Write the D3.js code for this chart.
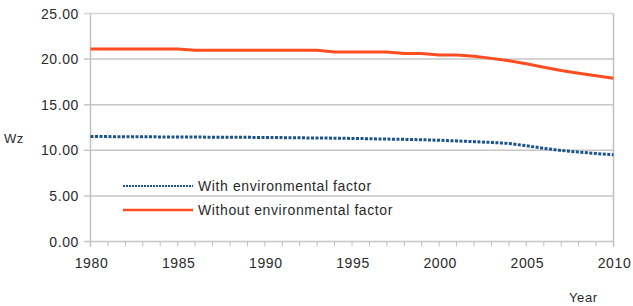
<!DOCTYPE html>
<html>
<head>
<meta charset="utf-8">
<script src="https://cdn.jsdelivr.net/npm/d3@7"></script>
<style>
  body { margin: 0; background: #fff; }
  text { font-family: "Liberation Sans", Arial, sans-serif; fill: #2a2a2a; letter-spacing: 0.6px; }
</style>
</head>
<body>
<svg class="chart"></svg>
<script>
  let years = d3.range(1980, 2011);
  let withEnv = [11.5, 11.5, 11.49, 11.48, 11.47, 11.46, 11.45, 11.44, 11.43, 11.42, 11.41,
                 11.39, 11.37, 11.35, 11.33, 11.3, 11.27, 11.23, 11.2, 11.16, 11.1,
                 11.03, 10.95, 10.86, 10.75, 10.5, 10.22, 9.98, 9.8, 9.65, 9.5];
  let withoutEnv = [21.1, 21.1, 21.1, 21.1, 21.1, 21.1, 20.97, 20.97, 20.97, 20.97, 20.97,
                    20.97, 20.97, 20.97, 20.78, 20.78, 20.78, 20.78, 20.62, 20.62, 20.45,
                    20.45, 20.3, 20.08, 19.82, 19.48, 19.1, 18.75, 18.45, 18.18, 17.9];
  let yTicks = [0, 5, 10, 15, 20, 25];
  let xLabels = [1980, 1985, 1990, 1995, 2000, 2005, 2010];
  let seriesNames = ["With environmental factor", "Without environmental factor"];

  let width = 633;
  let height = 306;
  let svg = d3.select(".chart").attr("width", width).attr("height", height);

  let x = d3.scaleLinear().domain([1980, 2010]).range([90.5, 613.5]);
  let y = d3.scaleLinear().domain([0, 25]).range([241.5, 13.5]);

  // horizontal grid
  svg.append("g")
    .selectAll("line")
    .data(yTicks)
    .enter()
    .append("line")
    .attr("x1", 84)
    .attr("x2", x(2010))
    .attr("y1", function(d) { return y(d); })
    .attr("y2", function(d) { return y(d); })
    .style("stroke", function(d) { return d == 25 ? "#d4d4d4" : "#c6c6c6"; })
    .style("stroke-width", 1.5);

  // y labels
  svg.append("g")
    .selectAll("text")
    .data(yTicks)
    .enter()
    .append("text")
    .attr("x", 79)
    .attr("y", function(d) { return y(d) + 5; })
    .attr("text-anchor", "end")
    .style("font-size", "14px")
    .text(function(d) { return d.toFixed(2); });

  // left + right axis lines
  svg.append("line").attr("x1", x(1980)).attr("x2", x(1980)).attr("y1", y(25)).attr("y2", y(0) + 5)
    .style("stroke", "#c0c0c0").style("stroke-width", 1.5);
  svg.append("line").attr("x1", x(2010)).attr("x2", x(2010)).attr("y1", y(25)).attr("y2", y(0) + 5)
    .style("stroke", "#c0c0c0").style("stroke-width", 1.5);

  // year ticks
  svg.append("g")
    .selectAll("line")
    .data(years)
    .enter()
    .append("line")
    .attr("x1", function(d) { return x(d); })
    .attr("x2", function(d) { return x(d); })
    .attr("y1", y(0))
    .attr("y2", y(0) + 5)
    .style("stroke", "#c0c0c0")
    .style("stroke-width", 1);

  svg.append("g")
    .selectAll("text")
    .data(xLabels)
    .enter()
    .append("text")
    .attr("x", function(d) { return x(d) + 1; })
    .attr("y", 268)
    .attr("text-anchor", "middle")
    .style("font-size", "14px")
    .text(function(d) { return d; });

  svg.append("text").attr("x", 4).attr("y", 143).style("font-size", "13px").text("Wz");
  svg.append("text").attr("x", 569).attr("y", 302).style("font-size", "13px").text("Year");

  let line = d3.line()
    .x(function(d) { return x(d[0]); })
    .y(function(d) { return y(d[1]); });

  svg.append("path")
    .datum(years.map(function(yr, i) { return [yr, withoutEnv[i]]; }))
    .attr("d", line)
    .style("fill", "none")
    .style("stroke", "#ff4d1f")
    .style("stroke-width", 3);

  svg.append("path")
    .datum(years.map(function(yr, i) { return [yr, withEnv[i]]; }))
    .attr("d", line)
    .style("fill", "none")
    .style("stroke", "#1b5290")
    .style("stroke-width", 3)
    .style("stroke-dasharray", "3,1.5");

  // legend
  let legend = svg.append("g");
  let styles = [
    {color: "#1b5290", dash: "2,1", w: 2},
    {color: "#ff4d1f", dash: null, w: 2.5}
  ];
  seriesNames.forEach(function(name, i) {
    let ly = 186 + i * 24;
    legend.append("line")
      .attr("x1", 123).attr("x2", 193).attr("y1", ly).attr("y2", ly)
      .style("stroke", styles[i].color)
      .style("stroke-width", styles[i].w)
      .style("stroke-dasharray", styles[i].dash);
    legend.append("text")
      .attr("x", 198).attr("y", ly + 5)
      .style("font-size", "14px")
      .text(name);
  });
</script>
</body>
</html>
